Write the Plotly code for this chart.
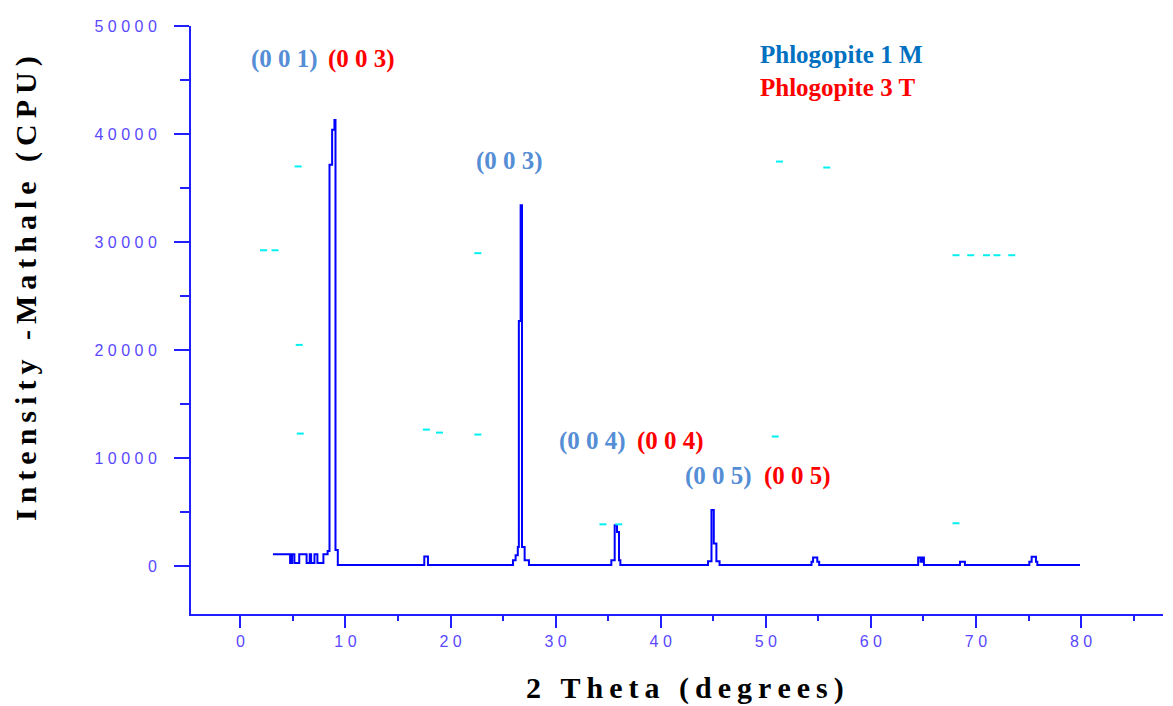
import plotly.graph_objects as go

# XRD pattern (step-like trace)
two_theta = [3.1, 4.73, 4.92, 5.14, 5.6, 6.3, 6.6, 6.73, 7.05, 7.33, 7.9, 8.3, 8.48, 8.73, 8.95,
             9.05, 9.27, 17.5, 17.85, 25.94, 26.19, 26.4, 26.5, 26.67, 26.8, 27.05, 27.46,
             35.3, 35.62, 35.84, 36.03, 36.16, 44.5, 44.83, 45.05, 45.3, 45.6,
             54.35, 54.5, 54.9, 55.08, 64.5, 64.73, 64.92, 65.05, 68.48, 68.95,
             75.08, 75.3, 75.71, 75.84, 79.9]
intensity = [1100, 300, 1100, 300, 1100, 300, 1100, 300, 1100, 300, 1100, 1400, 37150, 40400, 41300,
             1500, 100, 900, 100, 550, 1000, 1780, 22700, 33400, 1780, 550, 100,
             550, 3780, 3160, 550, 100, 460, 5200, 2090, 460, 100,
             400, 800, 400, 100, 800, 400, 800, 100, 400, 100,
             400, 860, 400, 100, 100]

# small cyan specks visible in the original scan
speck_x = [5.5, 2.2, 3.3, 5.6, 5.7, 17.7, 18.95, 22.6, 22.6, 34.5, 36.0, 51.3, 55.8, 50.9,
           68.1, 69.5, 71.0, 72.0, 73.4, 68.1]
speck_y = [37000, 29240, 29240, 20480, 12270, 12640, 12360, 28970, 12180, 3870, 3870, 37450,
           36900, 12000, 28780, 28780, 28780, 28780, 28780, 3970]

# tick labels
x_ticks = [0, 10, 20, 30, 40, 50, 60, 70, 80]
x_tick_text = ["0", "1 0", "2 0", "3 0", "4 0", "5 0", "6 0", "7 0", "8 0"]
y_ticks = [0, 10000, 20000, 30000, 40000, 50000]
y_tick_text = ["0", "1 0 0 0 0", "2 0 0 0 0", "3 0 0 0 0", "4 0 0 0 0", "5 0 0 0 0"]

# peak labels: (text, x, y, colour)
label_text = ["(0 0 1)", "(0 0 3)", "(0 0 3)", "(0 0 4)", "(0 0 4)", "(0 0 5)", "(0 0 5)",
              "Phlogopite 1 M", "Phlogopite 3 T"]
label_x = [0.86, 8.19, 22.19, 30.1, 37.52, 42.1, 49.6, 49.24, 49.24]
label_y = [46950, 46950, 37550, 11620, 11620, 8300, 8300, 47320, 44280]
label_color = ["#558ED5", "#FF0000", "#558ED5", "#558ED5", "#FF0000", "#558ED5", "#FF0000",
               "#0070C0", "#FF0000"]

AXIS_BLUE = "#1f1fff"
TICK_FONT = dict(family="Liberation Sans, Arial, sans-serif", size=16, color="#5a48ff")
SERIF = "Liberation Serif, Times New Roman, serif"
TS = "\u2009"

fig = go.Figure()
fig.add_trace(go.Scatter(x=two_theta, y=intensity, mode="lines", line_shape="hv",
                         line=dict(color="#0000ff", width=2), showlegend=False))
fig.add_trace(go.Scatter(x=speck_x, y=speck_y, mode="markers",
                         marker=dict(symbol="line-ew", size=5, line=dict(color="#00f0f0", width=2)),
                         showlegend=False))

for t, x, y, c in zip(label_text, label_x, label_y, label_color):
    fig.add_annotation(x=x, y=y, text=f"<b>{t}</b>", showarrow=False, xanchor="left", yanchor="middle",
                       font=dict(family=SERIF, size=25, color=c))

x_title = "2 Theta (degrees)"
y_title = "Intensity -Mathale (CPU)"
fig.add_annotation(xref="paper", yref="paper", x=0.508, y=-0.125, showarrow=False,
                   text="<b>" + TS.join(x_title) + "</b>", xanchor="center", yanchor="middle",
                   font=dict(family=SERIF, size=30, color="#000000"))
fig.add_annotation(xref="paper", yref="paper", x=-0.17, y=0.554, showarrow=False, textangle=-90,
                   text="<b>" + TS.join(y_title) + "</b>", xanchor="center", yanchor="middle",
                   font=dict(family=SERIF, size=30, color="#000000"))

fig.update_xaxes(range=[-4.7, 87.8], showgrid=False, zeroline=False, showline=True,
                 linecolor=AXIS_BLUE, linewidth=2, ticks="outside", ticklen=12, tickwidth=2,
                 tickcolor=AXIS_BLUE, tickvals=x_ticks, ticktext=x_tick_text, tickfont=TICK_FONT,
                 minor=dict(ticks="outside", ticklen=5, tickwidth=2, tickcolor=AXIS_BLUE, dtick=5,
                            tick0=0, showgrid=False))
fig.update_yaxes(range=[-4430, 50000], showgrid=False, zeroline=False, showline=True,
                 linecolor=AXIS_BLUE, linewidth=2, ticks="outside", ticklen=15, tickwidth=2,
                 tickcolor=AXIS_BLUE, tickvals=y_ticks, ticktext=y_tick_text, tickfont=TICK_FONT,
                 ticklabelstandoff=14,
                 minor=dict(ticks="outside", ticklen=9, tickwidth=2, tickcolor=AXIS_BLUE, dtick=5000,
                            tick0=0, showgrid=False))

# the page body adds an 8px offset, so the figure is 8px smaller and margins shifted
fig.update_layout(width=1165, height=698, plot_bgcolor="white", paper_bgcolor="white",
                  margin=dict(l=183, r=10, t=16, b=92), showlegend=False)

fig.write_html("out.html")
